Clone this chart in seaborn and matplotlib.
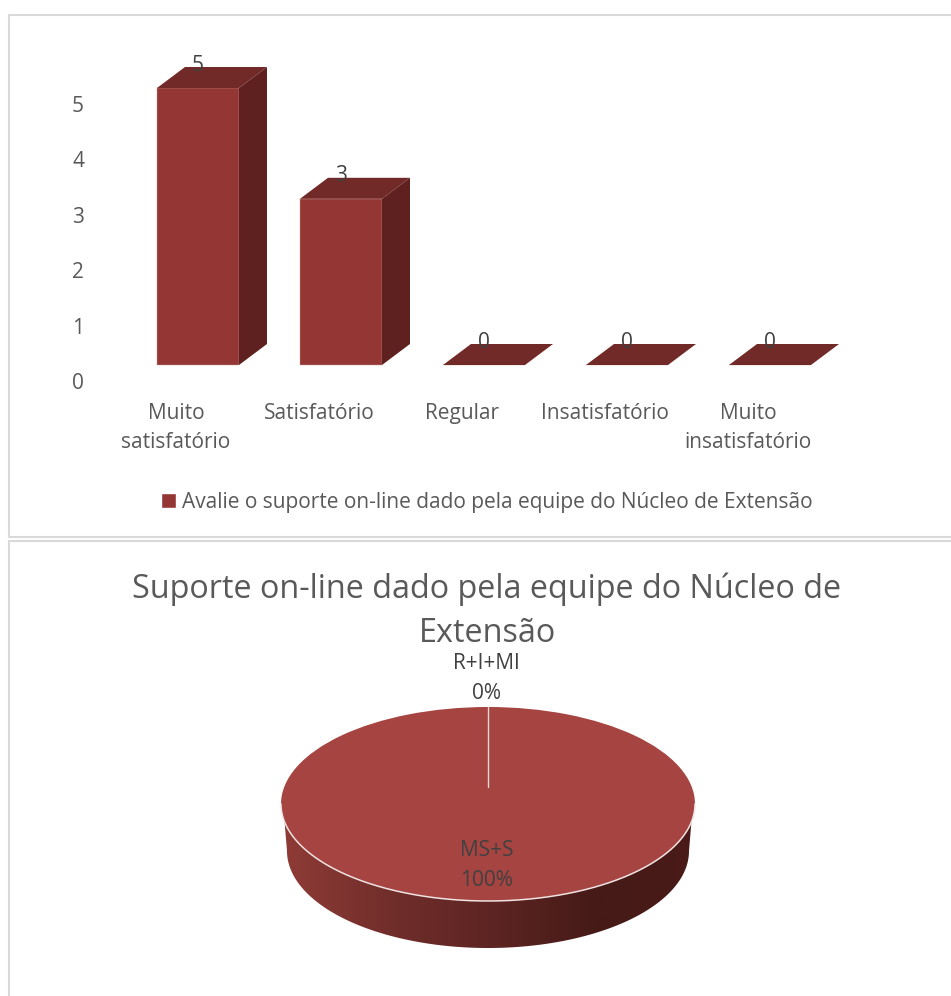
# -*- coding: utf-8 -*-
"""
Barras e pizza do suporte on-line (efeito 3D desenhado a mao)
"""
import numpy as np
import seaborn as sns
import matplotlib.pyplot as plt
from matplotlib.lines import Line2D
from matplotlib.patches import Polygon
from matplotlib.transforms import ScaledTranslation

# dados
categorias = ['Muito\nsatisfatório', 'Satisfatório', 'Regular', 'Insatisfatório', 'Muito\ninsatisfatório']
respostas = [5, 3, 0, 0, 0]
y_ticks = [0, 1, 2, 3, 4, 5]
serie = 'Avalie o suporte on-line dado pela equipe do Núcleo de Extensão'
titulo_pizza = 'Suporte on-line dado pela equipe do Núcleo de\nExtensão'
fatias = ['MS+S', 'R+I+MI']
fatias_pct = [100, 0]

W, H = 951, 996
FRENTE, LADO, TOPO = '#943633', '#5f2020', '#722a28'
CINZA, ESCURO = '#595959', '#404040'
FONTE = 15

sns.set_style('white')
plt.rcParams['font.family'] = ['Open Sans', 'DejaVu Sans']

fig = plt.figure(figsize=(W / 100, H / 100), dpi=100)


def caixa(x0, y0, x1, y1):
    # pixels da imagem (y para baixo) -> coordenadas da figura
    return [x0 / W, 1 - y1 / H, (x1 - x0) / W, (y1 - y0) / H]


def moldura(x0, y0, x1, y1):
    xs = np.array([x0, x0, x1, x1, x0]) / W
    ys = 1 - np.array([y0, y1, y1, y0, y0]) / H
    fig.add_artist(Line2D(xs, ys, color='#d9d9d9', lw=1.5))


moldura(9, 15, 960, 537)
moldura(9, 541, 960, 1010)

# ---- barras ----
px_y = 55.4   # pixels por unidade
px_x = 143.0  # pixels por categoria
base, topo_ax = 365, 40
esq, dir_ = 98, 870
ax = fig.add_axes(caixa(esq, topo_ax, dir_, 395))
sns.barplot(x=categorias, y=respostas, color=FRENTE, saturation=1, width=82 / px_x,
            edgecolor='#c9a3a1', linewidth=0.3, label=serie, legend=False, ax=ax)
ax.set_xlim(-(198 - esq) / px_x, (dir_ - 198) / px_x)
ax.set_ylim(-(395 - base) / px_y, (base - topo_ax) / px_y)
ax.set_yticks(y_ticks)
ax.tick_params(axis='both', length=0, labelsize=FONTE, labelcolor=CINZA)
ax.tick_params(axis='y', pad=10)
ax.tick_params(axis='x', pad=5.5)
sns.despine(ax=ax, left=True, bottom=True)
ax.set_xlabel('')
ax.set_ylabel('')

# rotulos deslocados em relacao as barras, como no original
for lab in ax.get_yticklabels():
    lab.set_transform(lab.get_transform() + ScaledTranslation(0, -0.16, fig.dpi_scale_trans))
for lab in ax.get_xticklabels():
    lab.set_linespacing(1.55)
    lab.set_transform(lab.get_transform() + ScaledTranslation(-0.22, 0, fig.dpi_scale_trans))

# faces lateral e superior a partir de cada barra
dx, dy = 28 / px_x, 21 / px_y
barras = ax.containers[0]
for b in barras:
    x0, x1, h = b.get_x(), b.get_x() + b.get_width(), b.get_height()
    if h > 0:
        ax.add_patch(Polygon([(x1, 0), (x1 + dx, dy), (x1 + dx, h + dy), (x1, h)],
                             fc=LADO, ec='none'))
    ax.add_patch(Polygon([(x0, h), (x0 + dx, h + dy), (x1 + dx, h + dy), (x1, h)],
                         fc=TOPO, ec='none'))
ax.bar_label(barras, labels=[str(v) for v in respostas], padding=9, fontsize=FONTE,
             color=ESCURO, zorder=5)

handle = plt.Rectangle((0, 0), 1, 1, fc=FRENTE)
fig.legend([handle], [serie], loc='center left', bbox_to_anchor=(151 / W, 1 - 502 / H),
           frameon=False, fontsize=FONTE, labelcolor=CINZA, handlelength=0.7, handleheight=0.7,
           handletextpad=0.3, borderpad=0)

# ---- pizza ----
rx, ry = 207, 97
cx, cy = 488, 804
pie_x0, pie_x1, pie_y0, pie_y1 = 270, 706, 695, 960
ax2 = fig.add_axes(caixa(pie_x0, pie_y0, pie_x1, pie_y1))
ax2.set_axis_off()


def pie_xy(px, py):
    return (px - cx) / rx, (cy - py) / ry


# lateral com degrade, recortada pela elipse de baixo
cores_lado = np.array([[0x8f, 0x3b, 0x36], [0x6f, 0x2d, 0x2a], [0x5e, 0x25, 0x23],
                       [0x45, 0x1a, 0x17], [0x4a, 0x1b, 0x17]]) / 255
pos_lado = np.array([0, 0.28, 0.5, 0.77, 1])
t = np.linspace(0, 1, 400)
grad = np.stack([np.interp(t, pos_lado, cores_lado[:, i]) for i in range(3)], axis=1)[None, :, :]
lim_x = ((283 - cx) / rx, (693 - cx) / rx)
im = ax2.imshow(grad, extent=[lim_x[0], lim_x[1], -3, 1], aspect='auto', zorder=1)
ang = np.linspace(np.pi, 2 * np.pi, 200)
arco = np.column_stack([(488 + 201 * np.cos(ang) - cx) / rx, (cy - (851 - 97 * np.sin(ang))) / ry])
lado = Polygon(np.vstack([[pie_xy(283, 803)], arco, [pie_xy(693, 803)]]),
               transform=ax2.transData, fc='none', ec='none')
ax2.add_patch(lado)
im.set_clip_path(lado)

wedges, _ = ax2.pie(fatias_pct, startangle=90, radius=1, colors=['#a64442', '#a64442'],
                    wedgeprops={'linewidth': 0, 'zorder': 2})
ax2.set_aspect('auto')
ax2.set_xlim((pie_x0 - cx) / rx, (pie_x1 - cx) / rx)
ax2.set_ylim((cy - pie_y1) / ry, (cy - pie_y0) / ry)

# contorno claro e separacao da fatia de 0%
ax2.plot(np.cos(ang), np.sin(ang), color='#efe3e2', lw=1.1, zorder=3)
ax2.plot([0, 0], [pie_xy(488, 787)[1], 1], color='#e8d9d8', lw=1, zorder=3)

fig.text(487 / W, 1 - 611 / H, titulo_pizza, ha='center', va='center', fontsize=23.3,
         color=CINZA, linespacing=1.46)
ax2.text(*pie_xy(487, 865.5), f'{fatias[0]}\n{fatias_pct[0]}%', ha='center', va='center',
         fontsize=FONTE, color=ESCURO, linespacing=1.55, zorder=4)
fig.text(486 / W, 1 - 678.5 / H, f'{fatias[1]}\n{fatias_pct[1]}%', ha='center', va='center',
         fontsize=FONTE, color=ESCURO, linespacing=1.55)

plt.savefig('out.png', dpi=100)
